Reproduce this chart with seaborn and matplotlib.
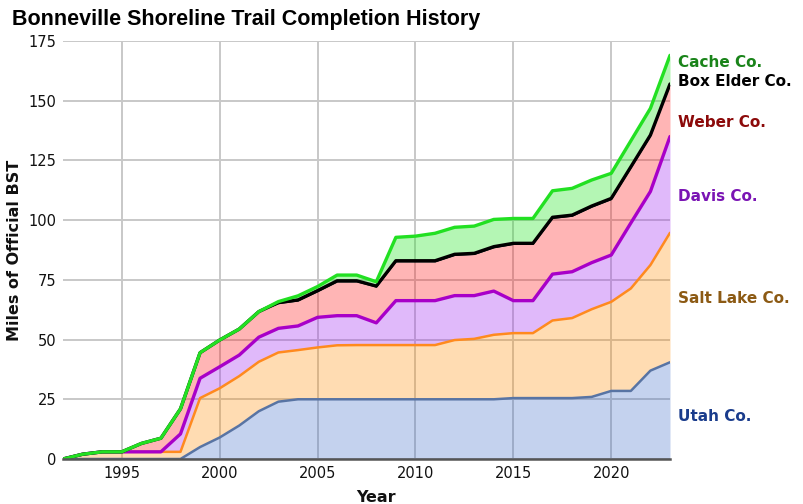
import numpy as np
import pandas as pd
import matplotlib
matplotlib.use("Agg")
import matplotlib.pyplot as plt
import seaborn as sns

years = list(range(1992, 2024))
utah = [0, 0, 0, 0, 0, 0, 0, 5, 9, 14, 20, 24, 25, 25, 25, 25, 25, 25, 25, 25,
        25, 25, 25, 25.5, 25.5, 25.5, 25.5, 26, 28.5, 28.5, 37, 40.5]
salt_lake = [0, 2, 3, 3, 3, 3, 3, 20.5, 20.6, 20.7, 20.7, 20.6, 20.6, 21.7, 22.6, 22.7,
             22.7, 22.7, 22.7, 22.7, 24.8, 25.3, 27, 27.2, 27.2, 32.5, 33.5, 36.7, 37.3,
             42.9, 44.2, 54.2]
davis = [0, 0, 0, 0, 0, 0, 7.5, 8.3, 9, 8.8, 10.3, 10.1, 10.1, 12.6, 12.4, 12.3, 9.3,
         18.6, 18.6, 18.6, 18.6, 18.1, 18.3, 13.6, 13.6, 19.4, 19.4, 19.5, 19.6, 27.4,
         30.8, 40.3]
weber = [0, 0, 0, 0, 3.5, 5.7, 10.5, 10.7, 11.2, 10.9, 10.7, 10.3, 10.4, 10.7, 14.1,
         14.1, 14.9, 16.2, 16.2, 16.2, 16.8, 17.2, 18.1, 23.5, 23.5, 23.3, 23.2, 23.2,
         23.2, 23.0, 23.1, 21.5]
box_elder = [0] * 11 + [0.5] * 21
cache = [0] * 11 + [0.4, 1.7, 1.7, 2.4, 2.4, 1.8, 9.8, 10.3, 11.5, 11.3, 11.4, 11.4,
                    10.4, 10.4, 11.1, 11.2, 10.9, 10.5, 10.9, 11.2, 12.0]

counties = ["Utah Co.", "Salt Lake Co.", "Davis Co.", "Weber Co.", "Box Elder Co.", "Cache Co."]
series = [utah, salt_lake, davis, weber, box_elder, cache]
fill_colors = ["#3d6cc8", "#ff8c00", "#a32cf0", "#ff1a1a", "#000000", "#1ee61e"]
fill_alpha = [0.30, 0.30, 0.33, 0.32, 1.0, 0.33]
line_colors = ["#5874a4", "#ff8a1e", "#a800c8", "#000000", "#000000", "#22e022"]
line_widths = [1.8, 1.8, 2.4, 2.2, 2.4, 2.4]
label_colors = ["#1a3c8c", "#8c5a14", "#7a14b4", "#8c0a0a", "#000000", "#1a841a"]
label_y = [18, 67, 110, 141, 158, 166]

sns.set_theme(style="whitegrid")
plt.rcParams["font.family"] = ["DejaVu Sans"]

fig = plt.figure(figsize=(8.04, 5.04), dpi=100)
ax = fig.add_axes([63 / 804, 45 / 504, 607 / 804, 418 / 504])

data = np.array(series, dtype=float)
cum = np.cumsum(data, axis=0)
df = pd.DataFrame({"Year": years})
prev = np.zeros(len(years))
for i, name in enumerate(counties):
    ax.fill_between(years, prev, cum[i], color=fill_colors[i], alpha=fill_alpha[i],
                    linewidth=0, zorder=2)
    prev = cum[i]
    df[name] = cum[i]

for i, name in enumerate(counties):
    if name == "Weber Co.":
        continue
    sns.lineplot(data=df, x="Year", y=name, ax=ax, color=line_colors[i],
                 linewidth=line_widths[i], zorder=3 + i)

ax.set_xlim(1992, 2023)
ax.set_ylim(0, 175)
ax.set_xticks(range(1995, 2021, 5))
ax.set_yticks(range(0, 176, 25))
ax.grid(True, color="#c8c8c8", linewidth=1.4, zorder=0)
ax.set_axisbelow(True)
for s in ["top", "right", "left"]:
    ax.spines[s].set_visible(False)
ax.spines["bottom"].set_visible(True)
ax.spines["bottom"].set_color("#555555")
ax.spines["bottom"].set_linewidth(1.8)
ax.spines["bottom"].set_zorder(20)
ax.tick_params(axis="both", labelsize=10.5, colors="#111111", length=0, pad=5)
ax.set_xlabel("Year", fontsize=11.5, fontweight="bold", color="#111111", labelpad=1)
ax.set_ylabel("Miles of Official BST", fontsize=11.5, fontweight="bold", color="#111111",
              labelpad=4)
ax.xaxis.set_label_coords(0.515, -0.075)

for i, name in enumerate(counties):
    ax.text(2023.4, label_y[i], name, color=label_colors[i], fontsize=11, fontweight="bold",
            va="center", ha="left", clip_on=False)

fig.text(12 / 804, 1 - 20 / 504, "Bonneville Shoreline Trail Completion History",
         fontsize=15.5, fontweight="bold", va="center", ha="left",
         family=["Liberation Sans", "DejaVu Sans"], color="#000000")

fig.savefig("out.png", dpi=100)
